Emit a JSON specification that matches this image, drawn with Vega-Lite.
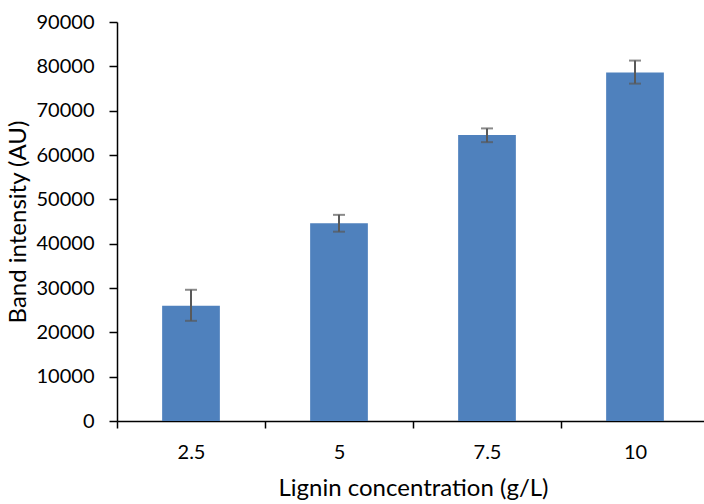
{
  "$schema": "https://vega.github.io/schema/vega-lite/v6.json",
  "autosize": "none",
  "width": 592,
  "height": 399,
  "padding": {"left": 117, "top": 22, "right": 0, "bottom": 83},
  "background": "white",
  "config": {
    "view": {"stroke": null},
    "font": "Lato",
    "axis": {"grid": false, "domainColor": "#000000", "domainWidth": 1.5, "tickColor": "#000000", "tickWidth": 1.5, "labelColor": "#000000", "titleColor": "#000000", "labelFont": "Lato", "titleFont": "Lato", "titleFontWeight": "normal"}
  },
  "data": {
    "values": [
      {"c": "2.5", "v": 26000, "lo": 22600, "hi": 29600},
      {"c": "5", "v": 44600, "lo": 42700, "hi": 46500},
      {"c": "7.5", "v": 64500, "lo": 62900, "hi": 66000},
      {"c": "10", "v": 78600, "lo": 76100, "hi": 81300}
    ]
  },
  "encoding": {
    "x": {
      "field": "c", "type": "nominal", "sort": null,
      "scale": {"paddingInner": 0, "paddingOuter": 0},
      "axis": {"title": "Lignin concentration (g/L)", "labelAngle": 0, "labelFontSize": 20, "titleFontSize": 24, "tickBand": "extent", "tickSize": 7, "labelPadding": 14, "titlePadding": 14}
    }
  },
  "layer": [
    {
      "mark": {"type": "bar", "color": "#4F81BD", "width": {"band": 0.39}},
      "encoding": {
        "y": {"field": "v", "type": "quantitative", "scale": {"domain": [0, 90000]},
          "axis": {"title": "Band intensity (AU)", "format": "d", "values": [0,10000,20000,30000,40000,50000,60000,70000,80000,90000], "labelFontSize": 20, "titleFontSize": 24, "tickSize": 8, "labelPadding": 15, "titlePadding": 6}}
      }
    },
    {
      "mark": {"type": "rule", "color": "#595959", "strokeWidth": 2},
      "encoding": {"y": {"field": "lo", "type": "quantitative"}, "y2": {"field": "hi"}}
    },
    {
      "mark": {"type": "tick", "color": "#595959", "thickness": 2, "size": 12},
      "encoding": {"y": {"field": "lo", "type": "quantitative"}}
    },
    {
      "mark": {"type": "tick", "color": "#595959", "thickness": 2, "size": 12},
      "encoding": {"y": {"field": "hi", "type": "quantitative"}}
    }
  ]
}
